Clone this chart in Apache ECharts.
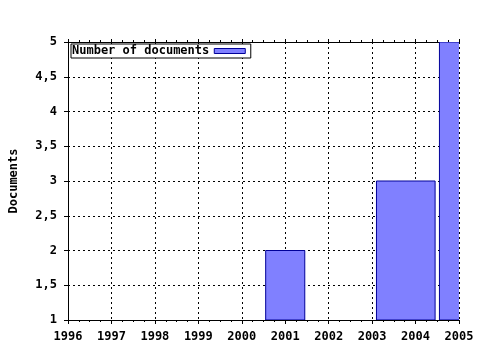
<!DOCTYPE html>
<html><head><meta charset="utf-8">
<script src="https://cdn.jsdelivr.net/npm/echarts@6/dist/echarts.min.js"></script>
<style>html,body{margin:0;padding:0;background:#fff}#c{width:480px;height:350px}</style>
</head><body><div id="c"></div>
<script>
const seriesName = 'Number of documents';
const barStart = [2000.55, 2003.1, 2004.55];
const barEnd = [2001.45, 2004.45, 2005.45];
const barValues = [2, 3, 5];
const yearTicks = [1996, 1997, 1998, 1999, 2000, 2001, 2002, 2003, 2004, 2005];
const yTicks = [1, 1.5, 2, 2.5, 3, 3.5, 4, 4.5, 5];

const FONT = 'DejaVu Sans Mono';
const data = barValues.map((v, i) => [barStart[i], barEnd[i], v]);
const gridLine = {show: true, lineStyle: {color: '#000', type: [2, 3], width: 1}};
const chart = echarts.init(document.getElementById('c'), null, {renderer: 'canvas'});
chart.setOption({
  animation: false,
  backgroundColor: '#fff',
  grid: {left: 64, right: 21, top: 42, bottom: 30},
  legend: {
    left: 71, top: 44, align: 'right', padding: [1, 5, 1, 1], itemGap: 4,
    borderColor: '#000', borderWidth: 1, backgroundColor: '#fff',
    itemWidth: 31, itemHeight: 5, icon: 'rect',
    itemStyle: {color: '#8080ff', borderColor: '#000099', borderWidth: 1},
    textStyle: {fontFamily: FONT, fontWeight: 'bold', fontSize: 12, color: '#000'},
    data: [seriesName]
  },
  xAxis: [{
    type: 'value', min: yearTicks[0], max: yearTicks[yearTicks.length - 1], interval: 1,
    axisLine: {show: true, onZero: false, lineStyle: {color: '#000'}},
    axisTick: {show: true, length: 4, lineStyle: {color: '#000'}},
    minorTick: {show: true, splitNumber: 4, length: 2, lineStyle: {color: '#000'}},
    splitLine: gridLine,
    axisLabel: {fontFamily: FONT, fontWeight: 'bold', fontSize: 12, color: '#000', margin: 11,
      formatter: v => String(v)}
  }, {
    type: 'value', position: 'top', min: yearTicks[0], max: yearTicks[yearTicks.length - 1], interval: 1,
    axisLine: {show: true, onZero: false, lineStyle: {color: '#000'}},
    axisTick: {show: true, length: 3, lineStyle: {color: '#000'}},
    minorTick: {show: true, splitNumber: 4, length: 2, lineStyle: {color: '#000'}},
    splitLine: {show: false}, axisLabel: {show: false}
  }],
  yAxis: {
    type: 'value', min: yTicks[0], max: yTicks[yTicks.length - 1], interval: 0.5,
    name: 'Documents', nameLocation: 'middle', nameRotate: 90, nameGap: 48,
    nameTextStyle: {fontFamily: FONT, fontWeight: 'bold', fontSize: 12, color: '#000'},
    axisLine: {show: true, onZero: false, lineStyle: {color: '#000'}},
    axisTick: {show: true, length: 4, lineStyle: {color: '#000'}},
    splitLine: gridLine,
    axisLabel: {fontFamily: FONT, fontWeight: 'bold', fontSize: 12, color: '#000', margin: 11,
      formatter: v => String(v).replace('.', ',')}
  },
  series: [{
    name: seriesName, type: 'custom', clip: true,
    itemStyle: {color: '#8080ff', borderColor: '#000099', borderWidth: 1},
    encode: {x: [0, 1], y: 2},
    data: data,
    renderItem: function (params, api) {
      const p0 = api.coord([api.value(0), api.value(2)]);
      const p1 = api.coord([api.value(1), yTicks[0]]);
      return {
        type: 'rect',
        shape: {x: p0[0], y: p0[1], width: p1[0] - p0[0], height: p1[1] - p0[1]},
        style: {fill: '#8080ff', stroke: '#000099', lineWidth: 1}
      };
    }
  }]
});
</script></body></html>
